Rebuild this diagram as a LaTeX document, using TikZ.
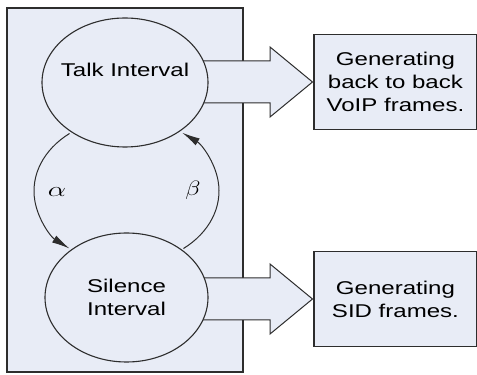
\documentclass[tikz,border=0pt]{standalone}
\usepackage{fontspec}
\setmainfont{Liberation Sans}[FakeStretch=1.3]
\usetikzlibrary{shapes.geometric, shapes.arrows, arrows.meta, positioning}

\definecolor{panelfill}{RGB}{232,236,246}
\definecolor{edgegray}{RGB}{45,45,45}

\tikzset{
    state/.style={ellipse, draw=edgegray, line width=1.1pt, fill=panelfill,
        inner sep=0pt, align=center, font=\fontsize{18.5}{23}\selectfont},
    blockarrow/.style={single arrow, draw=edgegray, line width=1pt, fill=panelfill,
        minimum width=69pt, single arrow head extend=14pt, single arrow tip angle=79,
        minimum height=117pt, inner xsep=0pt, inner ysep=20.5pt, anchor=tail},
    framebox/.style={rectangle, draw=edgegray, line width=1.3pt, fill=panelfill,
        minimum width=163pt, minimum height=95pt, align=center, anchor=west,
        font=\fontsize{18.5}{23}\selectfont},
    looparrow/.style={draw=edgegray, line width=1pt, -{Latex[length=18pt,width=8pt]}},
    greek/.style={font=\fontsize{22}{22}\selectfont}
}

\begin{document}
\begin{tikzpicture}[x=1pt,y=1pt]
    \useasboundingbox (0,0) rectangle (477,375);
    \draw[draw=edgegray, line width=1.6pt, fill=panelfill] (7,3) rectangle (243,367);

    \node[blockarrow] (talkarr) at (195,293) {};
    \node[blockarrow] (silarr) at (195,76) {};

    \node[state, minimum width=166pt, minimum height=129pt] (talk) at (125,292.5) {};
    \node[font=\fontsize{18.5}{23}\selectfont] (talktxt) at (125,305) {Talk Interval};
    \node[state, minimum width=163pt, minimum height=129pt] (silence) at (126.5,77.5)
        {Silence\\Interval};

    \node[framebox] (voipbox) at (talkarr.tip) {Generating\\back to back\\VoIP frames.};
    \node[framebox] (sidbox) at (silarr.tip) {Generating\\SID frames.};

    \coordinate (loop) at (126.5,184);
    \draw[looparrow] ([shift={(128:92.5 and 73)}]loop)
        arc[start angle=128, end angle=232, x radius=92.5, y radius=73];
    \draw[looparrow] ([shift={(-52:92.5 and 73)}]loop)
        arc[start angle=-52, end angle=53, x radius=92.5, y radius=73];

    \node[greek] (alpha) at (57,183) {\scalebox{1.4}[1]{$\alpha$}};
    \node[greek] (beta) at (193,185) {\scalebox{1.2}[1]{$\beta$}};
\end{tikzpicture}
\end{document}
